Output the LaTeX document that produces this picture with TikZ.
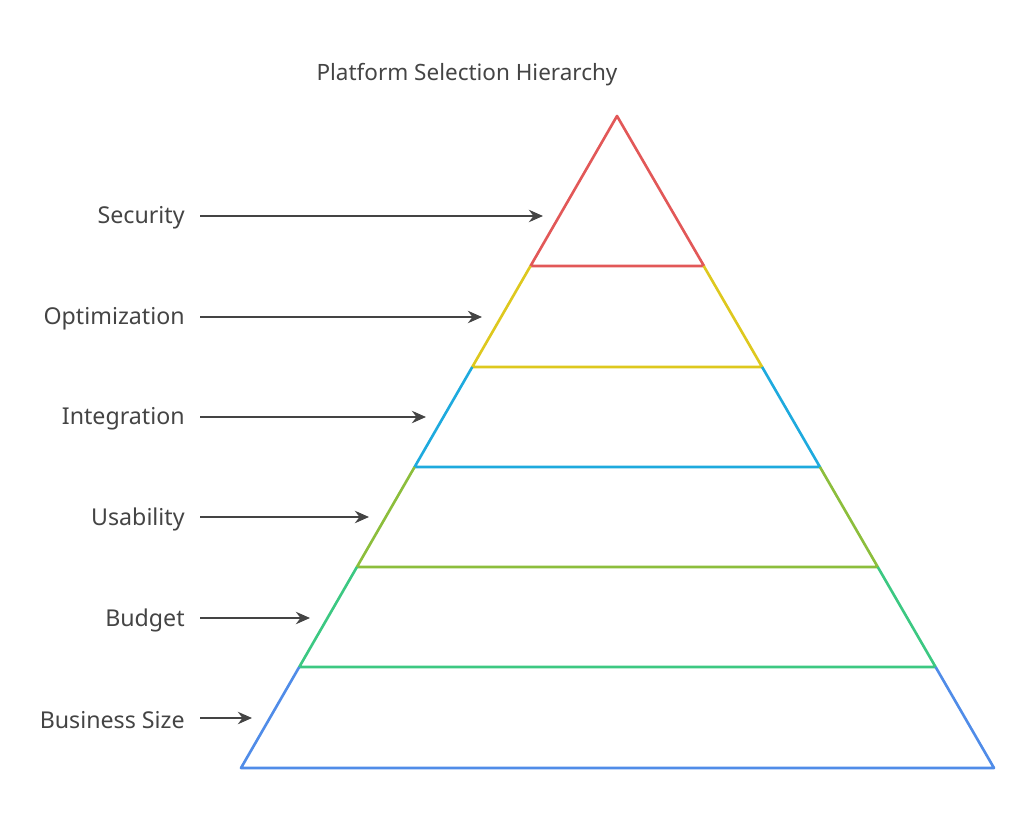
\documentclass[tikz,border=0pt]{standalone}
\usepackage{fontspec}
\setmainfont{Noto Sans}
\usetikzlibrary{arrows.meta,calc}
\definecolor{lvlred}{RGB}{226,88,88}
\definecolor{lvlyellow}{RGB}{222,200,30}
\definecolor{lvlcyan}{RGB}{30,170,222}
\definecolor{lvlolive}{RGB}{140,190,60}
\definecolor{lvlgreen}{RGB}{60,200,130}
\definecolor{lvlblue}{RGB}{80,140,232}
\definecolor{textgrey}{RGB}{68,68,68}
\tikzset{
  label/.style={anchor=east, text=textgrey, font=\fontsize{13.2}{15}\selectfont, inner sep=0pt},
  pointer/.style={-{Stealth[length=8pt,width=7pt]}, draw=textgrey, line width=1.4pt},
  band/.style={line width=1.5pt, line join=round}
}
\begin{document}
\begin{tikzpicture}[x=0.02cm, y=-0.02cm]
    \useasboundingbox (0,0) rectangle (1024,827);
    % title
    \node[text=textgrey, font=\fontsize{12.8}{15}\selectfont] (title) at (467,75) {Platform Selection Hierarchy};
    % pyramid bands, top to bottom
    \draw[band, lvlred] (530.5,266) -- (617,116) -- (704,266) -- cycle;
    \foreach \top/\bot/\col in {266/367/lvlyellow, 367/467/lvlcyan, 467/567/lvlolive, 567/667/lvlgreen, 667/768/lvlblue} {
        \draw[band, \col] ({617-0.5767*(\top-116)},\top) -- ({617-0.5767*(\bot-116)},\bot)
            -- ({617+0.5782*(\bot-116)},\bot) -- ({617+0.5782*(\top-116)},\top);
    }
    % labels and arrows
    \foreach \name/\txt/\y/\tip in {sec/Security/216/543, opt/Optimization/317/482, int/Integration/417/426,
                                    usa/Usability/517/369, bud/Budget/618/310, biz/Business Size/718/252} {
        \node[label] (\name) at (185,\y+2) {\txt};
        \coordinate (\name-tip) at (\tip,\y);
        \draw[pointer] (200,\y) -- (\name-tip);
    }
\end{tikzpicture}
\end{document}
